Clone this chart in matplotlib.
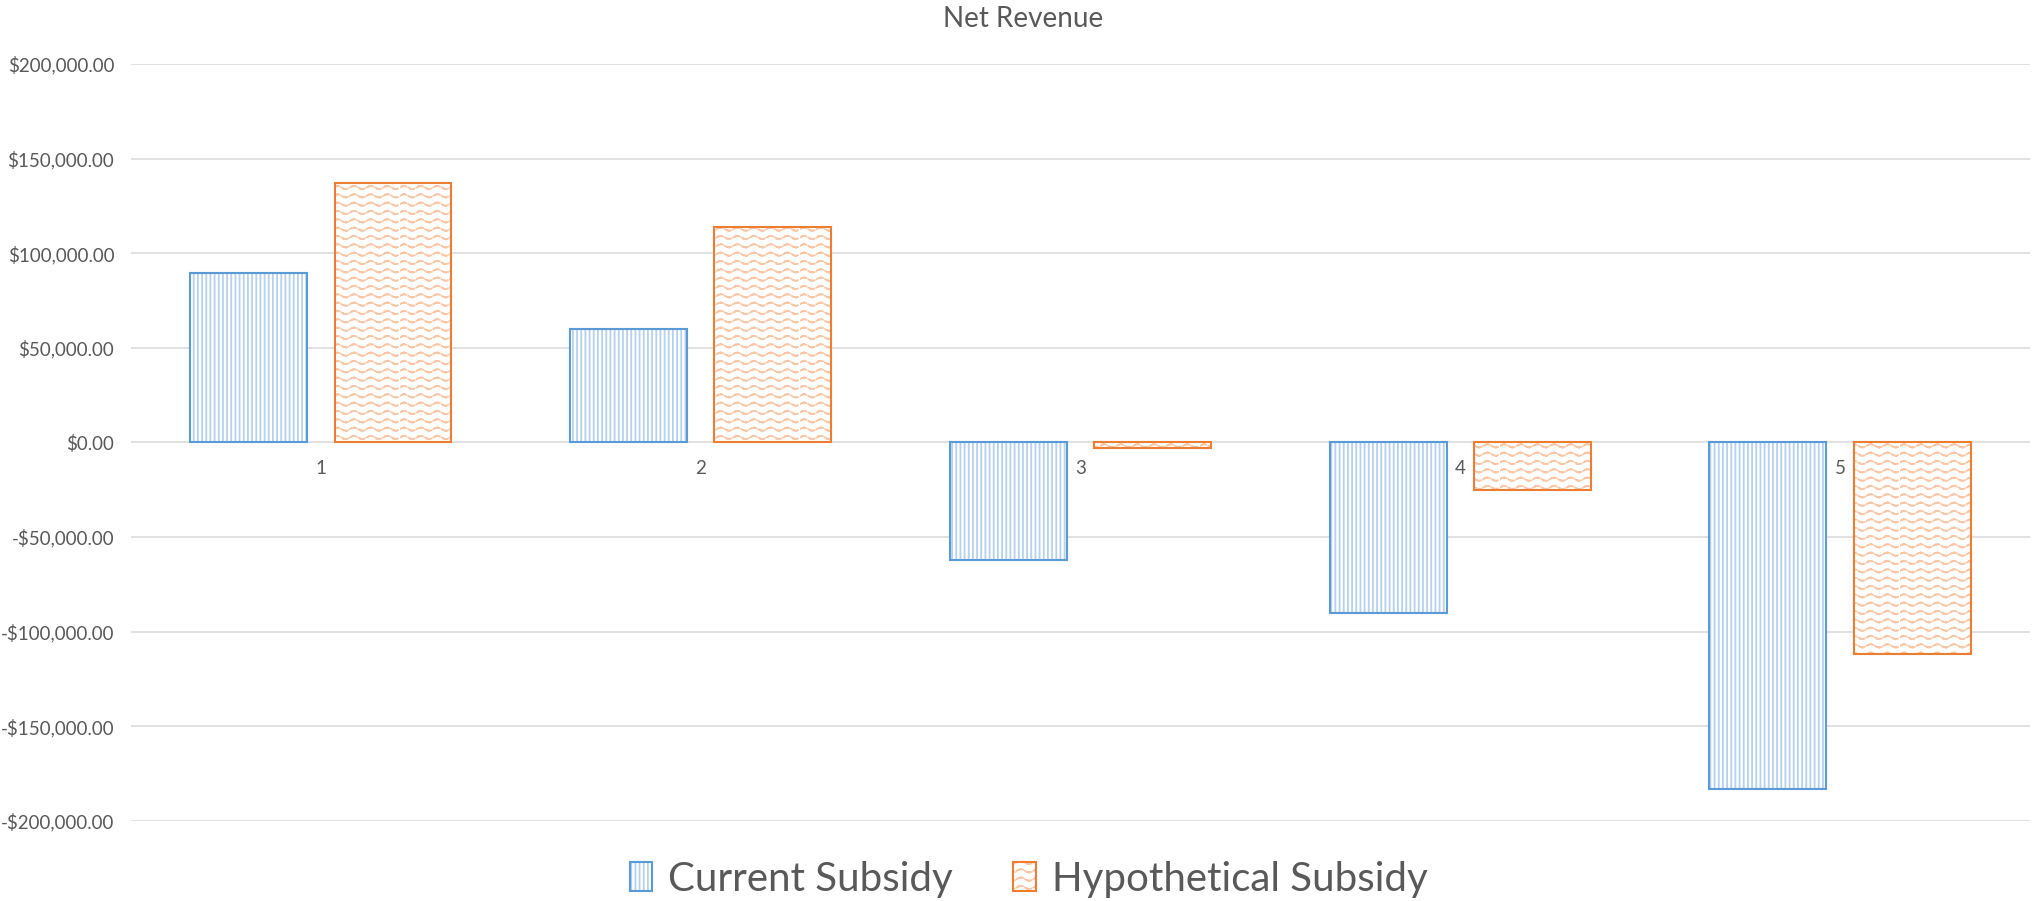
import warnings
warnings.filterwarnings('ignore')
import numpy as np
import matplotlib
matplotlib.use('Agg')
import matplotlib.pyplot as plt
import matplotlib.patches as mpatches
from matplotlib import hatch as mhatch
from matplotlib.path import Path
from matplotlib.legend_handler import HandlerTuple
from matplotlib.ticker import FuncFormatter, MultipleLocator

# ---------------- data ----------------
categories = ['1', '2', '3', '4', '5']
current_subsidy = [89400, 60100, -62100, -90300, -183400]
hypothetical_subsidy = [137000, 113900, -2800, -25000, -111600]
series_names = ['Current Subsidy', 'Hypothetical Subsidy']
chart_title = 'Net Revenue'

# ---------------- style ----------------
plt.rcParams['font.family'] = ['Lato', 'DejaVu Sans']
plt.rcParams['hatch.linewidth'] = 1.3
TEXT = '#595959'
GRID = '#D9D9D9'
BLUE_EDGE = '#5B9BD5'
BLUE_HATCH = '#B4D1EE'
ORANGE_EDGE = '#ED7D31'
ORANGE_HATCH = '#F8C6A4'


class WaveHatch(mhatch.HatchPatternBase):
    """Dashed wavy-line hatch, selected with '~'."""
    def __init__(self, hatch, density):
        n = hatch.count('~')
        rows = 12 * n
        periods = 6
        segs = 8
        verts = []
        if rows:
            xs = np.linspace(0, 1, periods * segs + 1)
            for r in range(rows):
                y0 = (r + 0.5) / rows
                ys = y0 + 0.016 * np.sin(2 * np.pi * periods * xs)
                for k in range(periods * segs):
                    if k % 4 == 3:
                        continue
                    verts.append((xs[k], ys[k]))
                    verts.append((xs[k + 1], ys[k + 1]))
        self._verts = np.array(verts, dtype=float).reshape(-1, 2)
        self.num_vertices = len(self._verts)

    def set_vertices_and_codes(self, vertices, codes):
        vertices[:] = self._verts
        codes[0::2] = Path.MOVETO
        codes[1::2] = Path.LINETO


mhatch._hatch_types.append(WaveHatch)

fig = plt.figure(figsize=(20.33, 9.01), dpi=100)
ax = fig.add_axes([0.0644, 0.0890, 0.9341, 0.8400])

x = np.arange(1, len(categories) + 1)
width = 0.308
off = 0.19

ax.bar(x - off, current_subsidy, width, facecolor='white', edgecolor=BLUE_HATCH,
       hatch='||||', linewidth=0, zorder=2)
ax.bar(x - off, current_subsidy, width, facecolor='none', edgecolor=BLUE_EDGE,
       linewidth=1.5, zorder=3)
ax.bar(x + off, hypothetical_subsidy, width, facecolor='white', edgecolor=ORANGE_HATCH,
       hatch='~', linewidth=0, zorder=2)
ax.bar(x + off, hypothetical_subsidy, width, facecolor='none', edgecolor=ORANGE_EDGE,
       linewidth=1.5, zorder=3)

ax.set_xlim(0.5, len(categories) + 0.5)
ax.set_ylim(-200000, 200000)
ax.yaxis.set_major_locator(MultipleLocator(50000))


def money(v, pos):
    s = f"${abs(v):,.2f}"
    return '-' + s if v < 0 else s


ax.yaxis.set_major_formatter(FuncFormatter(money))
ax.set_xticks([])
ax.tick_params(axis='y', length=0, pad=12, labelsize=13.5, labelcolor=TEXT)
ax.yaxis.grid(True, color=GRID, linewidth=1.1)
ax.set_axisbelow(True)
for s in ax.spines.values():
    s.set_visible(False)

for xi, cat in zip(x, categories):
    ax.annotate(cat, (xi, 0), xytext=(0, -19), textcoords='offset points',
                ha='center', va='center', fontsize=13.5, color=TEXT)

fig.text(1023 / 2033, 1 - 19 / 901, chart_title, ha='center', va='center',
         fontsize=20, color=TEXT)

h1 = (mpatches.Patch(facecolor='white', edgecolor=BLUE_HATCH, hatch='||||', linewidth=0),
      mpatches.Patch(facecolor='none', edgecolor=BLUE_EDGE, linewidth=1.5))
h2 = (mpatches.Patch(facecolor='white', edgecolor=ORANGE_HATCH, hatch='~', linewidth=0),
      mpatches.Patch(facecolor='none', edgecolor=ORANGE_EDGE, linewidth=1.5))
fig.legend([h1, h2], series_names, loc='center', bbox_to_anchor=(0.506, 0.0244),
           ncol=2, frameon=False, fontsize=29, handlelength=0.55, handleheight=0.7,
           handletextpad=0.4, columnspacing=1.5, labelcolor=TEXT,
           handler_map={tuple: HandlerTuple(ndivide=1, pad=0)})

fig.savefig('out.png', dpi=100)
